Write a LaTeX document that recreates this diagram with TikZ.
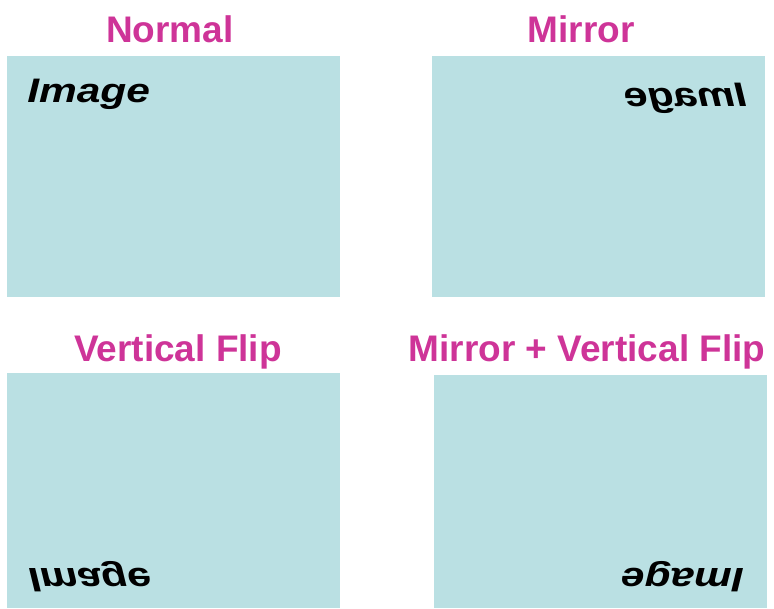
\documentclass[tikz,border=0pt]{standalone}
\usepackage{fontspec}
\setmainfont{Liberation Sans}
\usetikzlibrary{positioning}
\definecolor{rosa}{RGB}{206, 52, 152}
\definecolor{aguamar}{RGB}{186, 224, 227}
\tikzset{
    panel/.style={rectangle, fill=aguamar, draw=none, inner sep=0pt, anchor=north west,               minimum width=333pt, minimum height=241pt},
    titulo/.style={text=rosa, font=\fontsize{37}{40}\selectfont\bfseries, anchor=base, inner sep=0pt},
    texto/.style={font=\fontsize{34}{36}\selectfont\bfseries\itshape, anchor=base west, inner sep=0pt},
}
\begin{document}
\begin{tikzpicture}[x=1pt, y=1pt]
        \useasboundingbox (0,0) rectangle (774,-608);

        \node[panel] (normal) at (7,-56) {};
        \node[panel] (mirror) at (432,-56) {};
        \node[panel, minimum height=235pt] (vflip) at (7,-373) {};
        \node[panel, minimum height=233pt] (both) at (434,-375) {};

        \node[titulo] (tnormal) at (170,-42) {Normal};
        \node[titulo] (tmirror) at (581,-42) {Mirror};
        \node[titulo] (tvflip) at (178,-361) {Vertical Flip};
        \node[titulo] (tboth) at (587,-361) {Mirror + Vertical Flip};

        \node[texto, xscale=1.25] (inormal) at (27,-102) {Image};
        \node[texto, xscale=-1.25] (imirror) at (747,-106) {Image};
        \node[texto, xscale=1.25, yscale=-1] (ivflip) at (28,-568) {Image};
        \node[texto, xscale=-1.25, yscale=-1] (iboth) at (744,-568) {Image};
\end{tikzpicture}
\end{document}
